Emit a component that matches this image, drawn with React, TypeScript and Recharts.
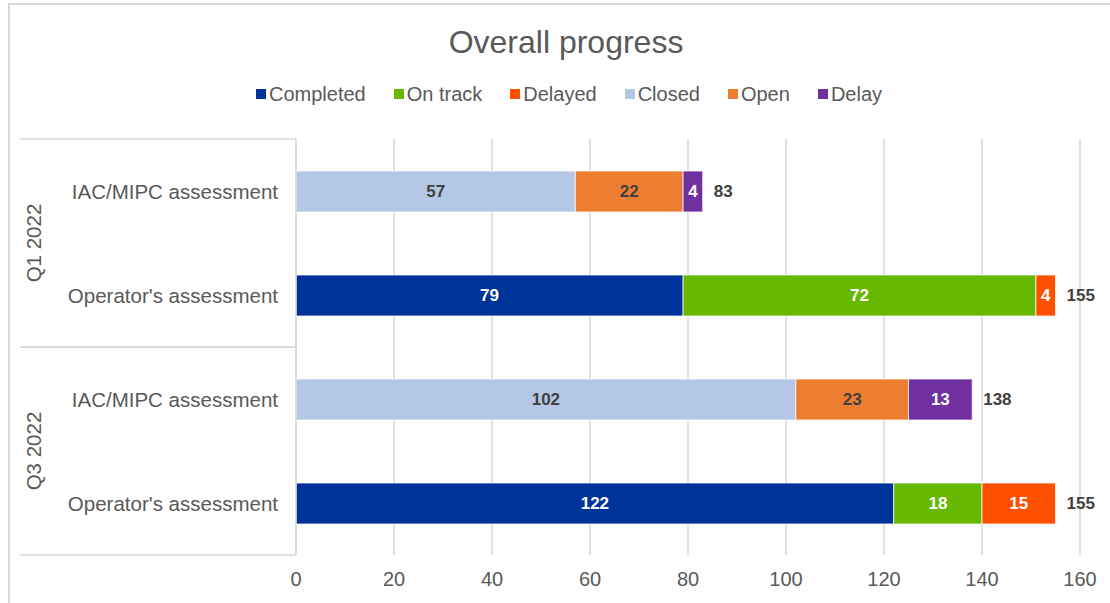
import React from 'react';
import { Bar, BarChart, CartesianGrid, LabelList, XAxis, YAxis } from 'recharts';

// rows, top to bottom
const groups = ['Q1 2022', 'Q3 2022'];
const rowGroup = [0, 0, 1, 1];
const rowNames = ['IAC/MIPC assessment', "Operator's assessment", 'IAC/MIPC assessment', "Operator's assessment"];

// series values per row (null = not part of that row)
const completed = [null, 79, null, 122];
const onTrack = [null, 72, null, 18];
const delayed = [null, 4, null, 15];
const closed = [57, null, 102, null];
const open = [22, null, 23, null];
const delay = [4, null, 13, null];

const xTicks = [0, 20, 40, 60, 80, 100, 120, 140, 160];

const series = [
	{ key: 'completed', name: 'Completed', values: completed, color: '#003399', text: '#ffffff' },
	{ key: 'onTrack', name: 'On track', values: onTrack, color: '#66b800', text: '#ffffff' },
	{ key: 'delayed', name: 'Delayed', values: delayed, color: '#ff5000', text: '#ffffff' },
	{ key: 'closed', name: 'Closed', values: closed, color: '#b4c7e7', text: '#404040' },
	{ key: 'open', name: 'Open', values: open, color: '#ed7d31', text: '#404040' },
	{ key: 'delay', name: 'Delay', values: delay, color: '#7030a0', text: '#ffffff' },
];

const data = rowNames.map((name, i) => {
	const row: Record<string, any> = { id: `${groups[rowGroup[i]]}|${name}` };
	let total = 0;
	let last = '';
	series.forEach((s) => {
		const v = s.values[i];
		row[s.key] = v;
		if (v != null) {
			total += v;
			last = s.key;
		}
	});
	row.total = total;
	row.last = last;
	return row;
});

const FONT = '"Liberation Sans", Arial, sans-serif';
const GREY = '#595959';
const LINE = '#d9d9d9';

const W = 1110;
const H = 603;
const M = { top: 139, right: 30, bottom: 18, left: 20 };
const Y_W = 276;
const X_H = 30;
const ROW_H = (H - M.top - M.bottom - X_H) / rowNames.length;

const CategoryTick = (props: any) => {
	const { x, y, index } = props;
	const g = rowGroup[index];
	const first = index === 0 || rowGroup[index - 1] !== g;
	const last = index === rowNames.length - 1 || rowGroup[index + 1] !== g;
	const n = rowGroup.filter((r) => r === g).length;
	const gy = y - ROW_H / 2 + (n * ROW_H) / 2;
	return (
		<g>
			<text x={x - 18} y={y} textAnchor="end" dominantBaseline="central" fontSize={20.5} fill={GREY} fontFamily={FONT}>
				{rowNames[index]}
			</text>
			{first && <line x1={M.left} x2={x} y1={y - ROW_H / 2} y2={y - ROW_H / 2} stroke={LINE} strokeWidth={1.5} />}
			{last && <line x1={M.left} x2={x} y1={y + ROW_H / 2} y2={y + ROW_H / 2} stroke={LINE} strokeWidth={1.5} />}
			{first && (
				<text
					x={33}
					y={gy}
					transform={`rotate(-90 33 ${gy})`}
					textAnchor="middle"
					dominantBaseline="central"
					fontSize={20.5}
					fill={GREY}
					fontFamily={FONT}
				>
					{groups[g]}
				</text>
			)}
		</g>
	);
};

const ValueTick = (props: any) => {
	const { x, y, payload } = props;
	return (
		<text x={x} y={y + 24} textAnchor="middle" dominantBaseline="central" fontSize={20} fill={GREY} fontFamily={FONT}>
			{payload.value}
		</text>
	);
};

function segmentLabel(key: string, color: string) {
	return (props: any) => {
		const { x, y, width, height, value } = props;
		if (value == null || !width) return null;
		const cy = y + height / 2;
		// which row this bar sits in, from its position on the category band
		const r = Math.floor((cy - M.top) / ROW_H);
		const row = data[r];
		return (
			<g>
				<text x={x + width / 2} y={cy} textAnchor="middle" dominantBaseline="central" fontSize={17} fontWeight="bold" fill={color} fontFamily={FONT}>
					{value}
				</text>
				{row && row.last === key && (
					<text x={x + width + 11} y={cy} textAnchor="start" dominantBaseline="central" fontSize={17} fontWeight="bold" fill="#404040" fontFamily={FONT}>
						{row.total}
					</text>
				)}
			</g>
		);
	};
}

export default function App() {
	return (
		<div style={{ position: 'absolute', left: 0, top: 0, width: W, height: H, overflow: 'hidden', background: '#fff', fontFamily: FONT }}>
			<div style={{ position: 'absolute', left: 8, top: 3, width: W + 20, height: H + 20, border: `2px solid ${LINE}`, boxSizing: 'border-box' }} />
			<div style={{ position: 'absolute', left: 11, top: 22, width: W, textAlign: 'center', fontSize: 32, lineHeight: '40px', color: GREY }}>
				Overall progress
			</div>
			<div
				style={{
					position: 'absolute',
					left: 14,
					top: 82,
					width: W,
					height: 24,
					display: 'flex',
					justifyContent: 'center',
					alignItems: 'center',
					gap: 28,
					fontSize: 20,
					color: GREY,
				}}
			>
				{series.map((s) => (
					<div key={s.key} style={{ display: 'flex', alignItems: 'center' }}>
						<span style={{ display: 'inline-block', width: 10, height: 10, background: s.color, marginRight: 3 }} />
						<span>{s.name}</span>
					</div>
				))}
			</div>
			<div style={{ position: 'absolute', left: 0, top: 0 }}>
				<BarChart width={W} height={H} data={data} layout="vertical" margin={M} barSize={41}>
					<CartesianGrid horizontal={false} stroke={LINE} strokeWidth={1.5} />
					<XAxis
						type="number"
						domain={[0, 160]}
						ticks={xTicks}
						height={X_H}
						axisLine={false}
						tickLine={false}
						tickSize={0}
						tickMargin={0}
						tick={<ValueTick />}
						interval={0}
					/>
					<YAxis
						type="category"
						dataKey="id"
						width={Y_W}
						axisLine={{ stroke: LINE, strokeWidth: 1.5 }}
						tickLine={false}
						tickSize={0}
						tickMargin={0}
						tick={<CategoryTick />}
						interval={0}
					/>
					{series.map((s) => (
						<Bar key={s.key} dataKey={s.key} name={s.name} stackId="a" fill={s.color} stroke="#ffffff" strokeWidth={0.75} isAnimationActive={false}>
							<LabelList dataKey={s.key} content={segmentLabel(s.key, s.text)} />
						</Bar>
					))}
				</BarChart>
			</div>
		</div>
	);
}
